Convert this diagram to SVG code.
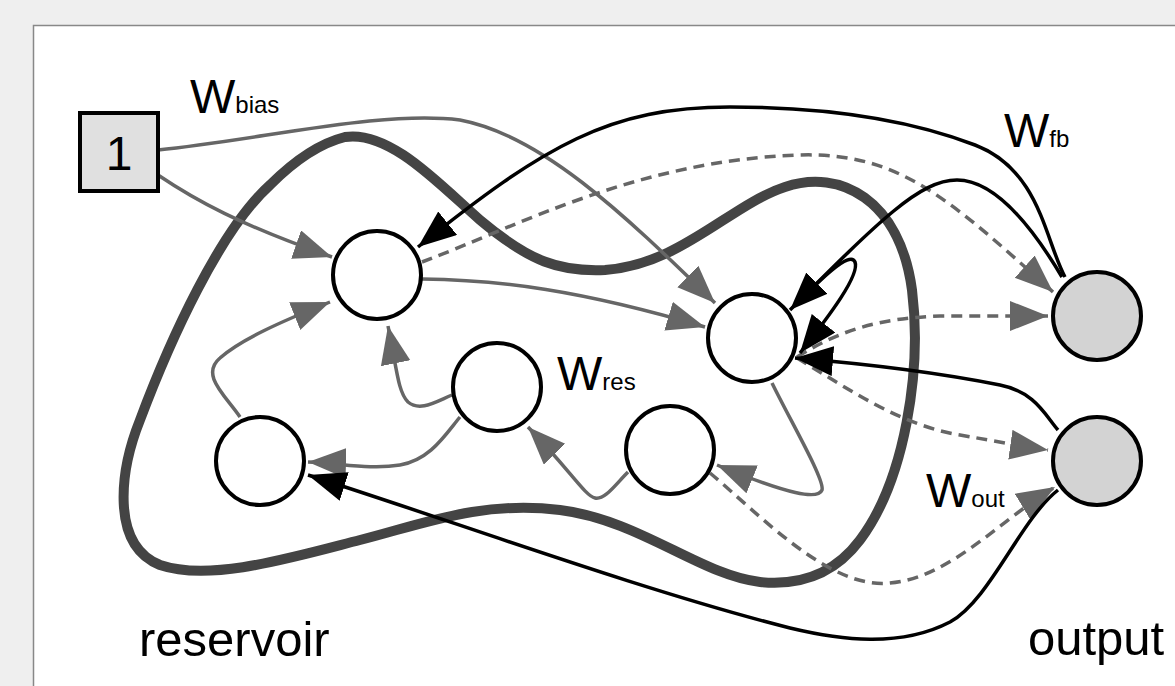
<svg xmlns="http://www.w3.org/2000/svg" width="1175" height="686" viewBox="0 0 1175 686">
<defs>
<marker id="ag" markerUnits="userSpaceOnUse" markerWidth="40" markerHeight="32" refX="38" refY="15" orient="auto"><path d="M0,0 L38,15 L0,30 Z" fill="#666"/></marker>
<marker id="ab" markerUnits="userSpaceOnUse" markerWidth="40" markerHeight="32" refX="38" refY="15" orient="auto"><path d="M0,0 L38,15 L0,30 Z" fill="#000"/></marker>
<style>
.g{fill:none;stroke:#666;stroke-width:3.5;marker-end:url(#ag)}
.d{fill:none;stroke:#666;stroke-width:3.5;stroke-dasharray:11,7;marker-end:url(#ag)}
.b{fill:none;stroke:#000;stroke-width:3.5;marker-end:url(#ab)}
.n{fill:#fff;stroke:#000;stroke-width:4}
.o{fill:#d3d3d3;stroke:#000;stroke-width:4}
.t{font-family:"Liberation Sans",Arial,sans-serif;fill:#000}
</style>
</defs>
<rect x="0" y="0" width="1175" height="686" fill="#efefef"/>
<rect x="33.5" y="25.5" width="1160" height="680" fill="#fff" stroke="#888" stroke-width="1.5"/>
<g id="reservoir-boundary">
<path d="M345,137 C390,130 440,185 480,220 C530,262 560,272 605,270 C680,265 730,205 785,187 C840,168 900,200 912,290 C922,370 905,480 860,540 C830,580 790,585 760,582 C700,575 640,520 560,510 C480,500 420,525 360,540 C290,558 210,582 160,565 C110,545 120,470 140,420 C170,340 220,230 270,185 C300,155 325,142 345,137 Z" fill="none" stroke="#444" stroke-width="10"/>
</g>
<g id="connectors">
<path class="g" d="M158,150 C260,140 380,110 460,120 C540,135 620,210 715,303"/>
<path class="g" d="M158,175 C195,200 240,225 332,257"/>
<path class="g" d="M422,279 C500,280 580,290 705,327"/>
<path class="g" d="M240,417 C225,395 200,375 220,358 C240,340 280,322 330,302"/>
<path class="g" d="M452,395 C435,402 420,412 408,402 C398,392 397,370 388,326"/>
<path class="g" d="M460,417 C445,435 430,460 400,465 C370,470 340,463 308,462"/>
<path class="g" d="M628,472 C615,485 605,500 595,498 C585,496 570,470 528,427"/>
<path class="g" d="M772,383 C790,420 825,480 822,490 C818,500 790,495 717,465"/>
<path class="d" d="M422,262 C520,225 640,160 800,155 C900,152 950,200 1053,292"/>
<path class="d" d="M797,357 C840,330 880,318 940,316 L1048,316"/>
<path class="d" d="M797,358 C850,390 900,425 960,435 C1000,442 1020,446 1048,450"/>
<path class="d" d="M710,473 C760,515 830,590 890,583 C950,578 1000,520 1055,487"/>
<path class="b" d="M1065,277 C1045,240 1040,170 975,145 C910,120 830,107 730,107 C610,107 545,145 418,247"/>
<path class="b" d="M1062,277 C1040,240 1000,180 957,180 C920,180 880,220 790,310"/>
<path class="b" d="M795,305 C820,280 850,250 855,262 C860,275 830,315 800,353"/>
<path class="b" d="M1058,430 C1045,415 1035,392 1000,385 C950,375 880,365 795,358"/>
<path class="b" d="M1058,490 C1020,520 990,600 950,622 C900,648 840,640 790,628 C640,590 450,520 308,475"/>
</g>
<g id="bias"><rect x="80" y="113" width="78" height="78" fill="#e0e0e0" stroke="#000" stroke-width="4"/><text class="t" x="119" y="170" font-size="48" text-anchor="middle">1</text></g>
<g id="n1"><circle class="n" cx="377" cy="275" r="44"/></g>
<g id="n2"><circle class="n" cx="752" cy="338" r="44"/></g>
<g id="n3"><circle class="n" cx="497" cy="387" r="44"/></g>
<g id="n4"><circle class="n" cx="670" cy="450" r="44"/></g>
<g id="n5"><circle class="n" cx="260" cy="461" r="44"/></g>
<g id="out1"><circle class="o" cx="1097" cy="316" r="44"/></g>
<g id="out2"><circle class="o" cx="1097" cy="461" r="44"/></g>
<g id="labels">
<text class="t" x="190" y="113" font-size="48">W<tspan font-size="24">bias</tspan></text>
<text class="t" x="1004" y="147" font-size="48">W<tspan font-size="24">fb</tspan></text>
<text class="t" x="557" y="390" font-size="48">W<tspan font-size="24">res</tspan></text>
<text class="t" x="926" y="507" font-size="48">W<tspan font-size="24">out</tspan></text>
<text class="t" x="139" y="656" font-size="49">reservoir</text>
<text class="t" x="1028" y="655" font-size="49">output</text>
</g>
</svg>
